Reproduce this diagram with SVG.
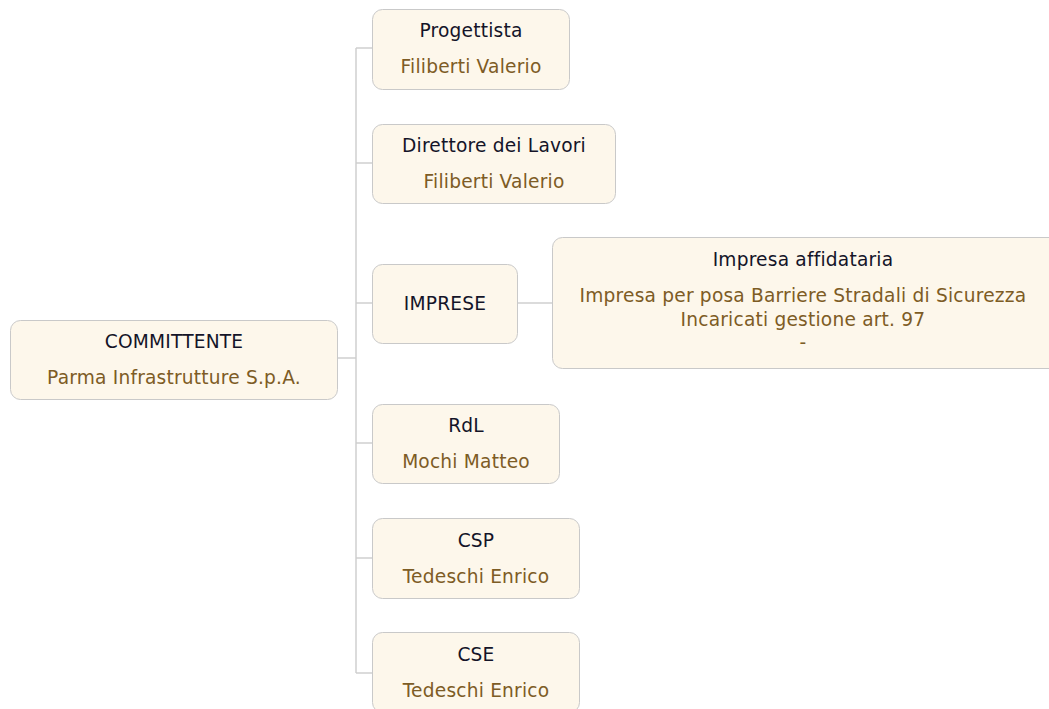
<svg xmlns="http://www.w3.org/2000/svg" width="1049" height="709" viewBox="0 0 1049 709">
<style>
.box{fill:#fdf7eb;stroke:#c9c9c9;stroke-width:1}
.t{font-family:"DejaVu Sans",sans-serif;font-size:18.6px;letter-spacing:0.2px;fill:#141428;text-anchor:middle}
.s{font-family:"DejaVu Sans",sans-serif;font-size:18.6px;letter-spacing:0.2px;fill:#7d5c25;text-anchor:middle}
.c{stroke:#cfcfcf;stroke-width:1.5;fill:none}
</style>
<rect width="1049" height="709" fill="#ffffff"/>
<g id="connectors">
<path class="c" d="M338 358H356M356 48V673M356 48H372M356 163H372M356 303H372M356 443H372M356 558H372M356 673H372M518 303H552"/>
</g>
<g id="committente">
<rect class="box" x="10.5" y="320.5" width="327" height="79" rx="10"/>
<text class="t" x="174" y="348">COMMITTENTE</text>
<text class="s" x="174" y="384">Parma Infrastrutture S.p.A.</text>
</g>
<g id="progettista">
<rect class="box" x="372.5" y="9.5" width="197" height="80" rx="10"/>
<text class="t" x="471" y="37">Progettista</text>
<text class="s" x="471" y="73">Filiberti Valerio</text>
</g>
<g id="direttore">
<rect class="box" x="372.5" y="124.5" width="243" height="79" rx="10"/>
<text class="t" x="494" y="152">Direttore dei Lavori</text>
<text class="s" x="494" y="188">Filiberti Valerio</text>
</g>
<g id="imprese">
<rect class="box" x="372.5" y="264.5" width="145" height="79" rx="10"/>
<text class="t" x="445" y="310">IMPRESE</text>
</g>
<g id="affidataria">
<rect class="box" x="552.5" y="237.5" width="510" height="131" rx="10"/>
<text class="t" x="803" y="266">Impresa affidataria</text>
<text class="s" x="803" y="302">Impresa per posa Barriere Stradali di Sicurezza</text>
<text class="s" x="803" y="326">Incaricati gestione art. 97</text>
<text class="s" x="803" y="349">-</text>
</g>
<g id="rdl">
<rect class="box" x="372.5" y="404.5" width="187" height="79" rx="10"/>
<text class="t" x="466" y="432">RdL</text>
<text class="s" x="466" y="468">Mochi Matteo</text>
</g>
<g id="csp">
<rect class="box" x="372.5" y="518.5" width="207" height="80" rx="10"/>
<text class="t" x="476" y="547">CSP</text>
<text class="s" x="476" y="583">Tedeschi Enrico</text>
</g>
<g id="cse">
<rect class="box" x="372.5" y="632.5" width="207" height="80" rx="10"/>
<text class="t" x="476" y="661">CSE</text>
<text class="s" x="476" y="697">Tedeschi Enrico</text>
</g>
</svg>
